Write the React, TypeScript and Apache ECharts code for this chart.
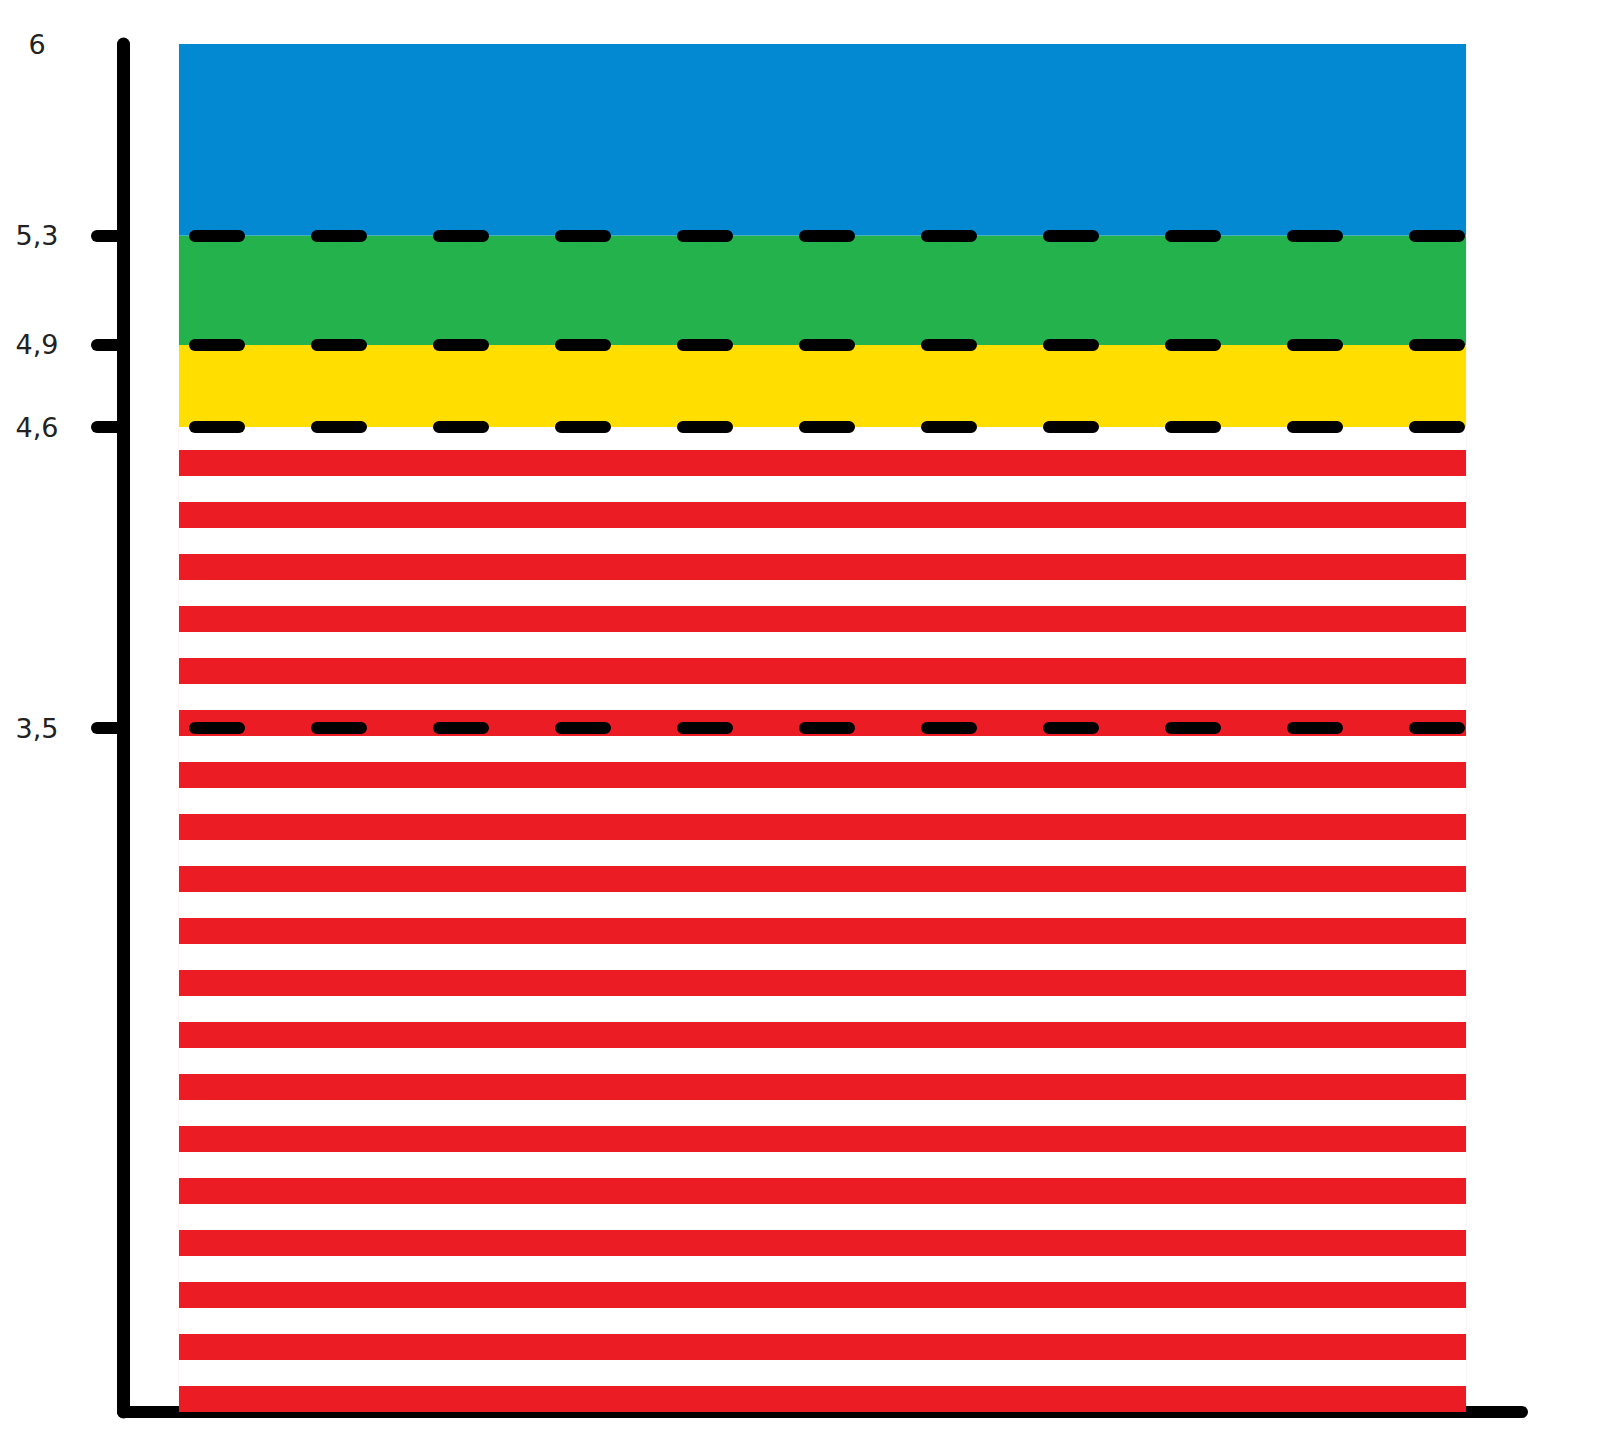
import React, { useEffect, useRef } from "react";
import * as echarts from "echarts";

const categories = ["Total"];
const bandNames = ["Rouge", "Jaune", "Vert", "Bleu"];
const bandValues = [4.6, 0.3, 0.4, 0.7]; // stacked: 0→4.6, 4.6→4.9, 4.9→5.3, 5.3→6
const bandColors = ["#EC1C24", "#FFDE00", "#23B24B", "#0289D1"];
const labelValues = [3.5, 4.6, 4.9, 5.3, 6];
const tickValues = [3.5, 4.6, 4.9, 5.3];
const guideValues = [5.3, 4.9, 4.6, 3.5];

export default function App() {
  const ref = useRef<HTMLDivElement>(null);
  useEffect(() => {
    if (!ref.current) return;
    const chart = echarts.init(ref.current, undefined, { renderer: "svg" });
    const series: any[] = bandValues.map((v, i) => ({
      name: bandNames[i],
      type: "bar",
      stack: "total",
      barWidth: "92%",
      data: [v],
      itemStyle: {
        color: bandColors[i],
        decal:
          i === 0
            ? {
                symbol: "rect",
                symbolSize: 1,
                color: "#ffffff",
                dashArrayX: [[1, 0]],
                dashArrayY: [26, 26],
                rotation: 0,
              }
            : undefined,
      },
      z: 2,
    }));
    series.push({
      name: "guides",
      type: "line",
      data: [],
      z: 5,
      markLine: {
        silent: true,
        symbol: ["none", "none"],
        label: { show: false },
        lineStyle: { color: "#000", width: 12, type: [44, 78], dashOffset: 50, cap: "round" },
        data: guideValues.map((v) => ({ yAxis: v })),
      },
    });
    chart.setOption({
      animation: false,
      backgroundColor: "#ffffff",
      grid: { left: 115, right: 70, top: 36, bottom: 35 },
      xAxis: {
        type: "category",
        data: categories,
        axisLine: { show: true, onZero: false, lineStyle: { color: "#000", width: 12, cap: "round" } },
        axisTick: { show: false },
        axisLabel: { show: false },
        splitLine: { show: false },
      },
      yAxis: {
        type: "value",
        min: 1,
        max: 6,
        axisLine: { show: true, lineStyle: { color: "#000", width: 13, cap: "round" } },
        axisTick: {
          show: true,
          customValues: tickValues,
          length: 26,
          lineStyle: { color: "#000", width: 12, cap: "round" },
        },
        axisLabel: {
          show: true,
          customValues: labelValues,
          margin: 86,
          align: "center",
          fontFamily: "DejaVu Sans",
          fontSize: 27,
          color: "#222",
          formatter: (v: number) => String(v).replace(".", ","),
        },
        splitLine: { show: false },
      },
      series,
    });
    return () => chart.dispose();
  }, []);
  return <div ref={ref} style={{ width: 1584, height: 1439 }} />;
}
